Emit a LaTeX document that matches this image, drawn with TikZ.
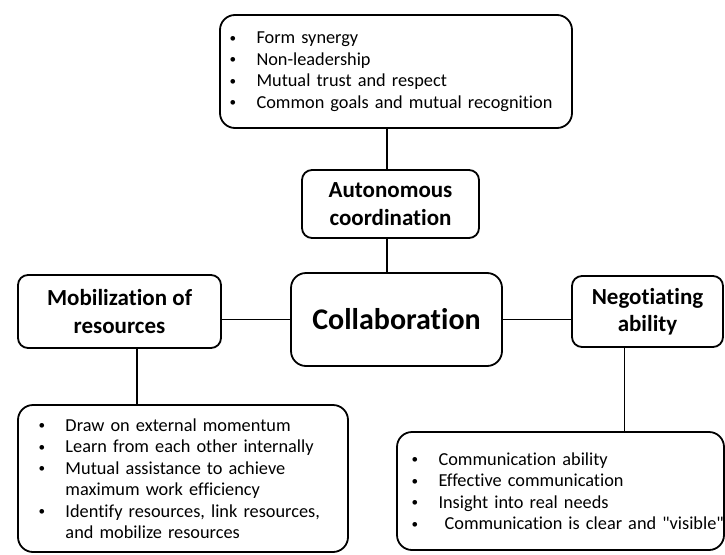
\documentclass[tikz,border=0pt]{standalone}
\usepackage{fontspec}
\usepackage{graphicx}
\setmainfont{Carlito}[Ligatures={TeXOff,NoCommon}]
\usetikzlibrary{calc}
\tikzstyle{box}=[rectangle, rounded corners=10pt, draw=black, line width=1.8pt, align=center, inner sep=0pt, font=\fontsize{23}{27.5}\selectfont\bfseries]
\tikzstyle{list}=[box, rounded corners=15pt, align=left, font=\fontsize{18.3}{21.5}\selectfont]
\tikzstyle{link}=[line width=1.8pt]
\newcommand{\itm}{\makebox[28pt][l]{\hspace*{1pt}\raisebox{1.5pt}{\scalebox{0.72}{\textbullet}}}}
\newcommand{\cnt}{\hspace*{28pt}}

\begin{document}
\begin{tikzpicture}[x=1pt,y=-1pt]
	\useasboundingbox (0,0) rectangle (725,554);

	\node[list, minimum width=352pt, minimum height=113pt, text width=335pt, inner xsep=8.5pt](goals) at (396,71.5){\itm Form synergy\\ \itm Non-leadership\\ \itm Mutual trust and respect\\ \itm Common goals and mutual recognition};
	\node[box, minimum width=177pt, minimum height=68pt](auto) at (390.5,204){Autonomous\\coordination};
	\node[box, rounded corners=15pt, minimum width=211pt, minimum height=93pt, font=\fontsize{30}{36}\selectfont\bfseries](collab) at (396.5,319.5){Collaboration};
	\node[box, minimum width=203pt, minimum height=73pt](mobil) at (119.5,311.5){Mobilization of\\resources};
	\node[box, minimum width=151pt, minimum height=71pt](negot) at (647.5,311.5){Negotiating\\ability};

	\node[list, minimum width=330pt, minimum height=147pt, text width=291pt, inner xsep=19.5pt](mobList) at (183,478.5){\itm Draw on external momentum\\ \itm Learn from each other internally\\ \itm Mutual assistance to achieve\\ \cnt maximum work efficiency\\ \itm Identify resources, link resources,\\ \cnt and mobilize resources};
	\node[list, minimum width=327pt, minimum height=118pt, text width=300pt, inner xsep=13.5pt](negList) at (560.5,491){\itm Communication ability\\ \itm Effective communication\\ \itm Insight into real needs\\ \mbox{\itm\ Communication is clear and "visible"}};

	%connectors
	\draw[link] ([xshift=-3.5pt]auto.north) -- ([xshift=-3.5pt]auto.north |- goals.south);
	\draw[link] ([xshift=-3.5pt]auto.south) -- ([xshift=-3.5pt]auto.south |- collab.north);
	\draw[link] (collab.west) -- (collab.west -| mobil.east);
	\draw[link] (collab.east) -- (collab.east -| negot.west);
	\draw[link] ([xshift=17.5pt]mobil.south) -- ([xshift=17.5pt]mobil.south |- mobList.north);
	\draw[link] ([xshift=-23pt]negot.south) -- ([xshift=-23pt]negot.south |- negList.north);

\end{tikzpicture}
\end{document}
